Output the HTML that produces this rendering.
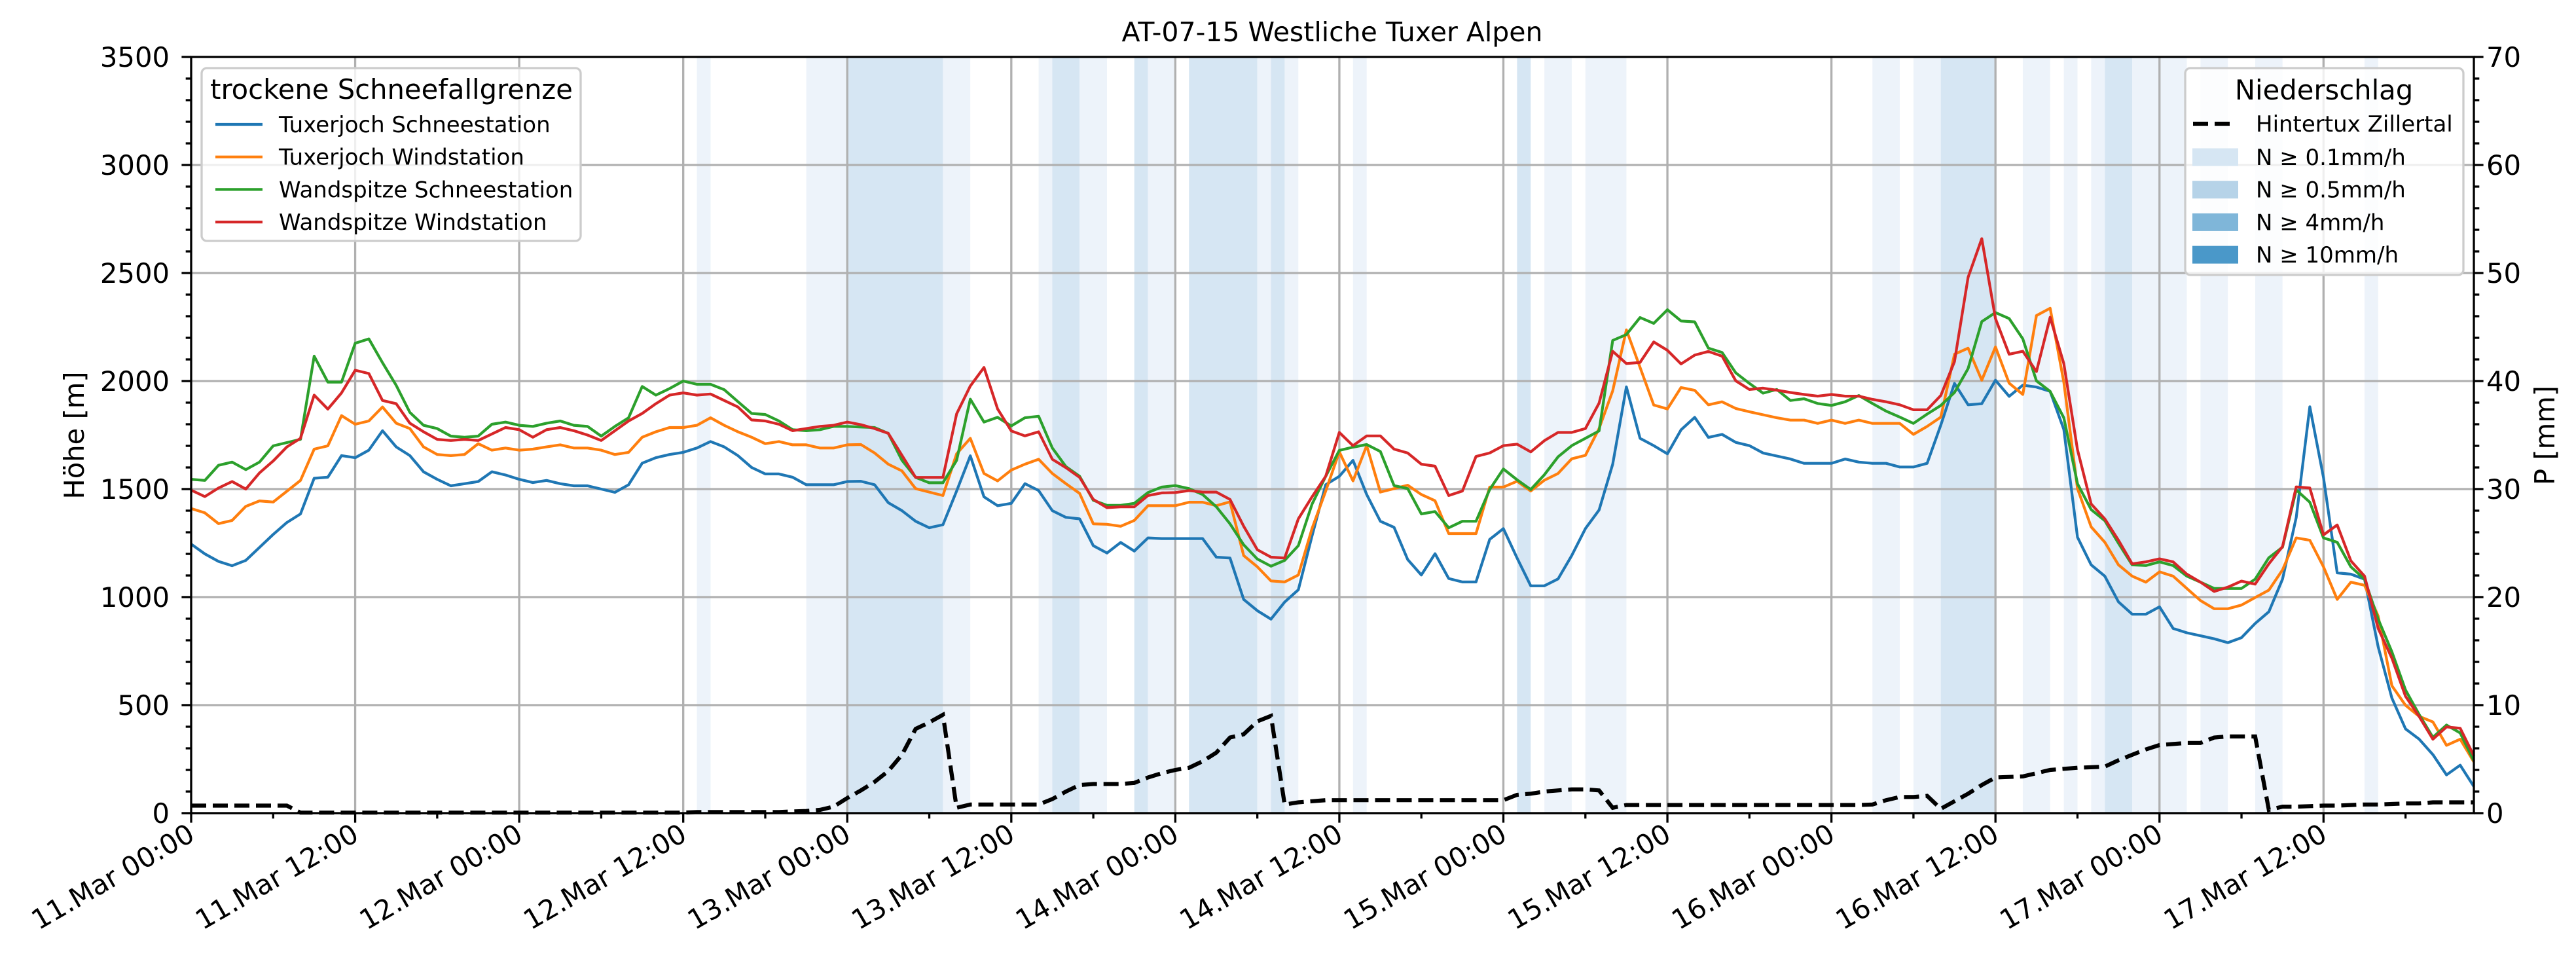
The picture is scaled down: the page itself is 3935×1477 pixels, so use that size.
<!DOCTYPE html>
<html><head><meta charset="utf-8"><title>AT-07-15 Westliche Tuxer Alpen</title>
<style>
html,body{margin:0;padding:0;background:#fff;}
svg{display:block;font-family:"DejaVu Sans","Liberation Sans",sans-serif;}
</style></head>
<body>
<svg id="chart" xmlns="http://www.w3.org/2000/svg" width="3935" height="1477" viewBox="0 0 3935 1477">
<rect width="3935" height="1477" fill="#fff"/>
<text x="2035" y="63" font-size="41" text-anchor="middle">AT-07-15 Westliche Tuxer Alpen</text>
<g id="bands"></g><g id="grid"></g><g id="series"></g><g id="axes"></g><g id="legends"></g>
</svg>
<script>
const hours = Array.from({length:168},(_,i)=>i);
const xTickLabels = ["11.Mar 00:00","11.Mar 12:00","12.Mar 00:00","12.Mar 12:00","13.Mar 00:00","13.Mar 12:00","14.Mar 00:00","14.Mar 12:00","15.Mar 00:00","15.Mar 12:00","16.Mar 00:00","16.Mar 12:00","17.Mar 00:00","17.Mar 12:00"];
const leftTicks = [0,500,1000,1500,2000,2500,3000,3500];
const rightTicks = [0,10,20,30,40,50,60,70];
const seriesNames = ["Tuxerjoch Schneestation","Tuxerjoch Windstation","Wandspitze Schneestation","Wandspitze Windstation"];
const tuxSchnee = [1245,1200,1165,1145,1170,1230,1290,1345,1385,1550,1555,1655,1645,1680,1770,1695,1655,1580,1545,1515,1525,1535,1580,1565,1545,1530,1540,1525,1515,1515,1500,1485,1520,1620,1645,1660,1670,1690,1720,1695,1655,1600,1570,1570,1555,1520,1520,1520,1535,1536,1520,1437,1400,1351,1321,1335,1491,1654,1464,1423,1434,1525,1493,1400,1369,1362,1238,1204,1253,1213,1274,1271,1271,1271,1271,1185,1181,989,937,898,977,1034,1283,1520,1559,1633,1475,1351,1323,1174,1102,1201,1086,1070,1070,1267,1317,1181,1052,1052,1084,1192,1317,1403,1615,1973,1735,1701,1663,1774,1832,1739,1753,1716,1701,1667,1653,1639,1619,1619,1619,1639,1625,1619,1619,1602,1602,1619,1796,1989,1890,1895,2004,1929,1981,1972,1952,1776,1277,1149,1097,978,921,921,955,855,835,821,807,789,812,878,932,1083,1368,1881,1553,1112,1106,1083,770,533,390,342,271,177,222,123];
const tuxWind = [1410,1390,1340,1355,1420,1445,1440,1490,1540,1685,1700,1840,1800,1815,1880,1805,1780,1695,1660,1655,1660,1710,1680,1690,1680,1685,1695,1705,1690,1690,1680,1660,1670,1740,1765,1785,1785,1795,1830,1795,1765,1740,1710,1720,1705,1705,1690,1690,1705,1706,1667,1615,1584,1502,1486,1470,1663,1735,1572,1538,1588,1615,1638,1572,1525,1480,1339,1337,1328,1355,1423,1423,1423,1439,1439,1423,1441,1192,1140,1075,1070,1102,1317,1491,1672,1538,1701,1486,1502,1518,1475,1446,1294,1294,1294,1509,1509,1536,1491,1541,1572,1640,1656,1780,1955,2237,2063,1889,1871,1970,1957,1890,1904,1873,1858,1844,1830,1819,1819,1804,1819,1804,1819,1804,1804,1804,1753,1790,1833,2124,2152,2004,2158,1990,1938,2303,2337,1995,1502,1325,1254,1149,1097,1069,1117,1097,1040,984,946,946,963,998,1032,1126,1274,1263,1140,989,1069,1055,912,590,499,448,422,314,342,237];
const wandSchnee = [1545,1540,1610,1625,1590,1625,1700,1715,1730,2115,1995,1995,2175,2195,2085,1980,1855,1795,1780,1745,1740,1745,1800,1810,1795,1790,1805,1815,1795,1790,1745,1790,1830,1975,1935,1965,2000,1985,1985,1960,1905,1850,1845,1815,1775,1770,1775,1790,1790,1787,1785,1758,1633,1554,1529,1529,1633,1916,1810,1832,1792,1830,1837,1690,1604,1559,1448,1425,1425,1434,1484,1509,1516,1502,1475,1418,1339,1242,1176,1143,1170,1238,1430,1559,1679,1694,1706,1674,1516,1502,1385,1396,1321,1351,1351,1498,1593,1543,1498,1566,1649,1701,1735,1769,2188,2215,2294,2267,2330,2278,2274,2152,2132,2038,1989,1944,1961,1910,1918,1896,1887,1904,1933,1896,1861,1833,1804,1847,1887,1947,2058,2275,2317,2289,2195,2001,1952,1830,1525,1405,1354,1249,1149,1146,1163,1146,1097,1069,1040,1040,1040,1083,1182,1231,1496,1439,1274,1254,1140,1083,898,747,570,456,351,408,371,242];
const wandWind = [1495,1465,1505,1535,1500,1575,1630,1695,1735,1935,1870,1945,2050,2035,1910,1895,1805,1765,1730,1725,1730,1725,1755,1785,1775,1740,1775,1785,1770,1750,1725,1770,1815,1850,1895,1935,1945,1935,1940,1910,1880,1820,1815,1800,1770,1780,1790,1795,1810,1798,1780,1758,1656,1554,1554,1554,1848,1977,2063,1871,1769,1746,1765,1638,1599,1554,1452,1414,1418,1418,1470,1482,1484,1493,1486,1486,1452,1328,1219,1185,1181,1362,1464,1559,1762,1701,1746,1746,1685,1667,1615,1606,1470,1491,1651,1667,1701,1708,1672,1724,1762,1762,1780,1898,2138,2081,2086,2181,2142,2079,2120,2137,2115,2001,1961,1967,1958,1947,1938,1930,1938,1930,1930,1915,1904,1890,1867,1867,1933,2090,2480,2659,2289,2124,2138,2044,2295,2081,1682,1431,1362,1263,1154,1163,1177,1163,1106,1069,1026,1046,1074,1060,1154,1234,1510,1505,1288,1334,1168,1097,855,718,541,447,342,399,393,265];
const precip = [0.7,0.7,0.7,0.7,0.7,0.7,0.7,0.7,0.05,0.05,0.05,0.05,0.05,0.05,0.05,0.05,0.05,0.05,0.05,0.05,0.05,0.05,0.05,0.05,0.05,0.05,0.05,0.05,0.05,0.05,0.05,0.05,0.05,0.05,0.05,0.05,0.05,0.1,0.1,0.1,0.1,0.1,0.1,0.1,0.15,0.2,0.3,0.6,1.4,2.1,2.9,3.9,5.4,7.8,8.4,9.1,0.5,0.8,0.8,0.8,0.8,0.8,0.8,1.3,2.0,2.6,2.7,2.7,2.7,2.8,3.3,3.7,4.0,4.2,4.8,5.6,7.0,7.3,8.5,9.0,0.8,1.0,1.1,1.2,1.2,1.2,1.2,1.2,1.2,1.2,1.2,1.2,1.2,1.2,1.2,1.2,1.2,1.7,1.8,2.0,2.1,2.2,2.2,2.1,0.5,0.75,0.75,0.75,0.75,0.75,0.75,0.75,0.75,0.75,0.75,0.75,0.75,0.75,0.75,0.75,0.75,0.75,0.75,0.8,1.2,1.5,1.5,1.6,0.4,1.1,1.8,2.6,3.3,3.35,3.4,3.7,4.0,4.1,4.2,4.25,4.3,4.9,5.4,5.9,6.3,6.4,6.5,6.5,7.0,7.1,7.1,7.1,0.3,0.6,0.6,0.65,0.7,0.7,0.75,0.8,0.8,0.85,0.9,0.9,1.0,1.0,1.0,1.0];
const bandStart = [37,45,48,55,62,63,65,69,70,73,78,79,80,85,97,99,102,123,126,128,134,137,139,140,142,147,151,159];
const bandEnd   = [38,48,55,57,63,65,67,70,72,78,79,80,81,86,98,101,105,125,128,132,136,138,140,142,146,149,153,160];
const bandLevel = [1,1,2,1,1,2,1,2,1,2,1,2,1,1,2,1,1,1,1,2,1,1,1,2,1,1,1,1];
const precipLegend = ["N \u2265 0.1mm/h","N \u2265 0.5mm/h","N \u2265 4mm/h","N \u2265 10mm/h"];

const NS="http://www.w3.org/2000/svg";
const L=292,R=3779,T=87,B=1242, HMAX=167;
const xs=h=>L+h*(R-L)/HMAX;
const yL=v=>B-v*(B-T)/3500;
const yR=v=>B-v*(B-T)/70;
function mk(tag,attrs,parent){const e=document.createElementNS(NS,tag);for(const k in attrs)e.setAttribute(k,attrs[k]);parent.appendChild(e);return e;}
const gB=document.getElementById('bands'),gG=document.getElementById('grid'),gS=document.getElementById('series'),gA=document.getElementById('axes'),gLg=document.getElementById('legends');
const bandColors={1:"#edf3fa",2:"#d6e6f3"};
bandStart.forEach((s,i)=>{
  const r=mk('rect',{x:xs(s),y:T,width:xs(bandEnd[i])-xs(s),height:B-T,fill:bandColors[bandLevel[i]]},gB);
  
  
});
xTickLabels.forEach((lab,i)=>{
  const x=xs(i*12);
  if(i>0){const g=mk('line',{x1:x,x2:x,y1:T,y2:B,stroke:"#b0b0b0","stroke-width":3.3},gG);
  }
});
leftTicks.forEach(v=>{
  if(v>0&&v<3500){const g=mk('line',{x1:L,x2:R,y1:yL(v),y2:yL(v),stroke:"#b0b0b0","stroke-width":3.3},gG);
  }
});
const cols=["#1f77b4","#ff7f0e","#2ca02c","#d62728"];
[tuxSchnee,tuxWind,wandSchnee,wandWind].forEach((arr,k)=>{
  const p=mk('polyline',{points:arr.map((v,i)=>xs(hours[i]).toFixed(1)+","+yL(v).toFixed(1)).join(" "),fill:"none",stroke:cols[k],"stroke-width":4.2,"stroke-linejoin":"round"},gS);
  
  
});
const pl=mk('polyline',{points:precip.map((v,i)=>xs(hours[i]).toFixed(1)+","+yR(v).toFixed(1)).join(" "),fill:"none",stroke:"#000","stroke-width":6.2,"stroke-dasharray":"23,10"},gS);


// frame
const fr=mk('rect',{x:L,y:T,width:R-L,height:B-T,fill:"none",stroke:"#000","stroke-width":3.3},gA);

// x ticks
for(let h=0;h<=HMAX;h+=6){const major=h%12===0;
  mk('line',{x1:xs(h),x2:xs(h),y1:B,y2:B+(major?14.6:8.3),stroke:"#000","stroke-width":3.3},gA);}
xTickLabels.forEach((lab,i)=>{const x=xs(i*12);
  const t=mk('text',{x:0,y:0,"font-size":41.7,"text-anchor":"end",transform:`translate(${x+8},${B+40}) rotate(-30)`},gA);
  t.textContent=lab;
  });
// left ticks
for(let v=0;v<=3500;v+=100){const major=v%500===0;
  mk('line',{x1:L,x2:L-(major?14.6:8.3),y1:yL(v),y2:yL(v),stroke:"#000","stroke-width":3.3},gA);}
leftTicks.forEach(v=>{const t=mk('text',{x:259,y:yL(v)+15,"font-size":41.7,"text-anchor":"end"},gA);t.textContent=v;
  });
for(let v=0;v<=70;v+=2){const major=v%10===0;
  mk('line',{x1:R,x2:R+(major?14.6:8.3),y1:yR(v),y2:yR(v),stroke:"#000","stroke-width":3.3},gA);}
rightTicks.forEach(v=>{const t=mk('text',{x:3798,y:yR(v)+15,"font-size":41.7,"text-anchor":"start"},gA);t.textContent=v;
  });
const yt=mk('text',{x:0,y:0,"font-size":41.7,"text-anchor":"middle",transform:"translate(128,665) rotate(-90)"},gA);yt.textContent="Höhe [m]";

const yt2=mk('text',{x:0,y:0,"font-size":41.7,"text-anchor":"middle",transform:"translate(3902,665) rotate(-90)"},gA);yt2.textContent="P [mm]";

// legend 1
const lg1=mk('g',{},gLg);
mk('rect',{x:308,y:104,width:579,height:264,rx:8,fill:"#fff","fill-opacity":0.8,stroke:"#cccccc","stroke-width":3.3},lg1);
const lt1=mk('text',{x:598,y:151,"font-size":41.7,"text-anchor":"middle"},lg1);lt1.textContent="trockene Schneefallgrenze";
seriesNames.forEach((n,k)=>{const y=190+k*49.7;
  const e=mk('g',{},lg1);
  mk('line',{x1:329,x2:401,y1:y,y2:y,stroke:cols[k],"stroke-width":4.2},e);
  const t=mk('text',{x:426,y:y+12,"font-size":34},e);t.textContent=n;});
// legend 2
const lg2=mk('g',{},gLg);
mk('rect',{x:3338,y:104,width:425,height:316,rx:8,fill:"#fff","fill-opacity":0.8,stroke:"#cccccc","stroke-width":3.3},lg2);
const lt2=mk('text',{x:3550,y:152,"font-size":41.7,"text-anchor":"middle"},lg2);lt2.textContent="Niederschlag";
const e0=mk('g',{},lg2);
mk('line',{x1:3350,x2:3408,y1:189,y2:189,stroke:"#000","stroke-width":6.2,"stroke-dasharray":"23,10"},e0);
const t0=mk('text',{x:3446,y:201,"font-size":34},e0);t0.textContent="Hintertux Zillertal";
const pcols=["#d6e6f3","#b6d3e8","#7fb6d9","#4a98c9"];
precipLegend.forEach((n,k)=>{const y=240+k*49.7;
  const e=mk('g',{},lg2);
  mk('rect',{x:3349,y:y-13.5,width:70,height:27,fill:pcols[k]},e);
  const t=mk('text',{x:3446,y:y+12,"font-size":34},e);t.textContent=n;});
</script>
</body></html>
